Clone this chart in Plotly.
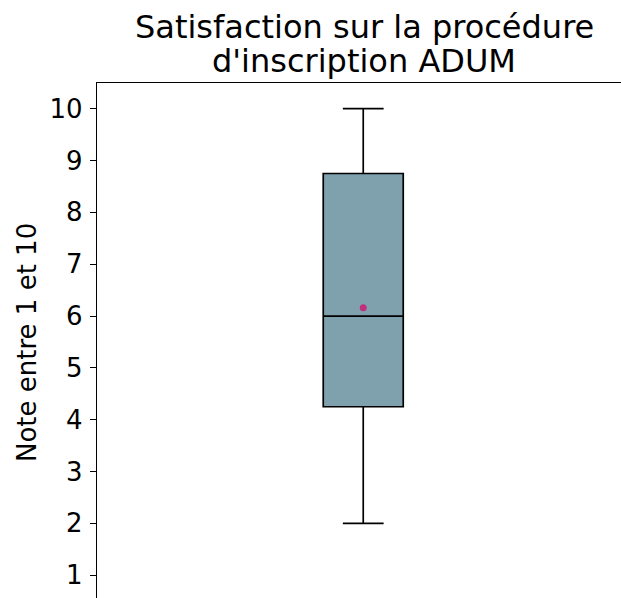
import plotly.graph_objects as go

# Data
category = ["ADUM"]
q1_values = [4.25]
median_values = [6.0]
q3_values = [8.75]
lower_whisker = [2.0]
upper_whisker = [10.0]
mean_values = [6.16]
y_ticks = [1, 2, 3, 4, 5, 6, 7, 8, 9, 10]
title_lines = ["Satisfaction sur la procédure", "d'inscription ADUM"]
y_label = "Note entre 1 et 10"

FONT = "DejaVu Sans"
W, H = 621, 598
ML, MT = 97, 83
PW, PH = W - ML, H - MT

xpos = [0]

fig = go.Figure()
fig.add_trace(go.Box(
    x=xpos,
    q1=q1_values, median=median_values, q3=q3_values,
    lowerfence=lower_whisker, upperfence=upper_whisker,
    width=0.5,
    whiskerwidth=0.51,
    fillcolor="#7FA1AD",
    line=dict(color="black", width=1.7),
    boxpoints=False,
    name=category[0],
    showlegend=False,
))
fig.add_trace(go.Scatter(
    x=xpos, y=mean_values, mode="markers",
    marker=dict(size=7, color="#C0307E"),
    showlegend=False,
))

def py(px):
    return (H - px) / PH

def pxx(px):
    return (px - ML) / PW

annotations = [
    dict(text=title_lines[0], x=pxx(364), y=py(27), xref="paper", yref="paper",
         xanchor="center", yanchor="middle", showarrow=False,
         font=dict(family=FONT, size=32, color="black")),
    dict(text=title_lines[1], x=pxx(364), y=py(61), xref="paper", yref="paper",
         xanchor="center", yanchor="middle", showarrow=False,
         font=dict(family=FONT, size=32, color="black")),
    dict(text=y_label, x=pxx(27), y=py(343), xref="paper", yref="paper",
         xanchor="center", yanchor="middle", showarrow=False, textangle=-90,
         font=dict(family=FONT, size=26, color="black")),
]

fig.update_layout(
    width=W, height=H,
    margin=dict(l=ML, r=0, t=MT, b=0, pad=0),
    paper_bgcolor="white", plot_bgcolor="white",
    font=dict(family=FONT, color="black"),
    annotations=annotations,
    xaxis=dict(
        range=[-1.664, 1.611], side="top", showline=True, linecolor="black",
        linewidth=1.3, showticklabels=False, ticks="", showgrid=False,
        zeroline=False, fixedrange=True,
    ),
    yaxis=dict(
        range=[0.56, 10.496], showline=True, linecolor="black", linewidth=1.3,
        tickmode="array", tickvals=y_ticks, ticktext=[str(v) for v in y_ticks],
        ticks="outside", ticklen=6, tickwidth=1.2, tickcolor="black",
        tickfont=dict(family=FONT, size=26, color="black"),
        ticklabelstandoff=2,
        showgrid=False, zeroline=False, fixedrange=True,
    ),
)

fig.write_html(
    "out.html",
    config={"displayModeBar": False},
    post_script="document.body.style.margin='0';document.body.style.overflow='hidden';",
)
